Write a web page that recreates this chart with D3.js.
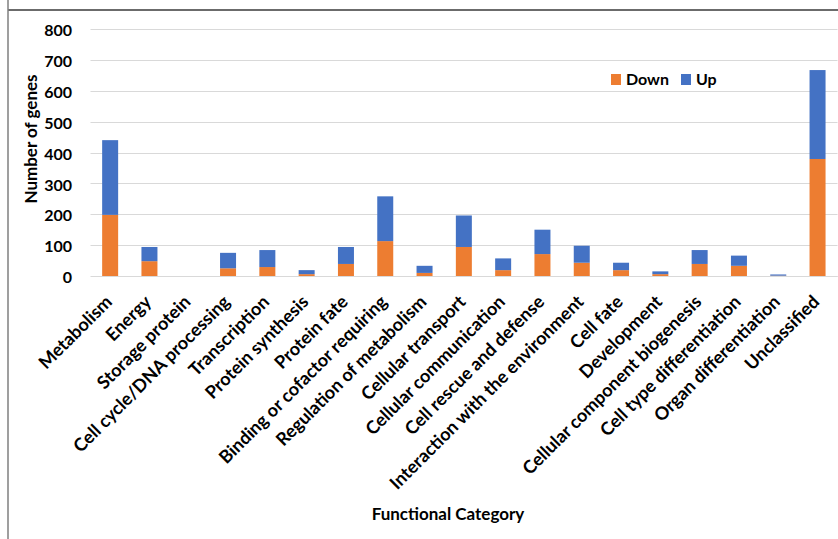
<!DOCTYPE html>
<html>
<head>
<meta charset="utf-8">
<script src="https://cdn.jsdelivr.net/npm/d3@7"></script>
<style>
  html, body { margin: 0; padding: 0; background: #fff; }
  svg { display: block; font-family: Lato, "Open Sans", sans-serif; font-weight: 700; }
</style>
</head>
<body>
<svg id="chart" width="838" height="539"></svg>
<script>
// Functional categories of the differentially expressed genes
const categories = [
  "Metabolism", "Energy", "Storage protein", "Cell cycle/DNA processing",
  "Transcription", "Protein synthesis", "Protein fate",
  "Binding or cofactor requiring", "Regulation of metabolism",
  "Cellular transport", "Cellular communication", "Cell rescue and defense",
  "Interaction with the environment", "Cell fate", "Development",
  "Cellular component biogenesis", "Cell type differentiation",
  "Organ differentiation", "Unclassified"
];
// Down-regulated gene counts
const down = [198, 48, 0, 25, 29, 6, 39, 113, 10, 94, 19, 71, 43, 19, 6, 39, 33, 1, 379];
// Up-regulated gene counts
const up = [242, 46, 0, 50, 55, 13, 55, 145, 23, 102, 38, 79, 55, 24, 9, 45, 33, 4, 288];
const yTicks = [0, 100, 200, 300, 400, 500, 600, 700, 800];
const seriesNames = ["Down", "Up"];
const seriesColors = ["#ED7D31", "#4472C4"];

const svg = d3.select("#chart");

// Frame lines
svg.append("line").attr("x1", 8).attr("x2", 838).attr("y1", 10).attr("y2", 10)
  .attr("stroke", "#3a3a3a").attr("stroke-width", 1.5);
svg.append("line").attr("x1", 8).attr("x2", 8).attr("y1", 0).attr("y2", 539)
  .attr("stroke", "#7f7f7f").attr("stroke-width", 1.5);

const x = d3.scaleBand().domain(categories).range([90.5, 837.2])
  .paddingInner(0.593).paddingOuter(0.2965);
const y = d3.scaleLinear().domain([0, 800]).range([276, 29]);

// Horizontal gridlines
svg.append("g").selectAll("line").data(yTicks).join("line")
  .attr("x1", 90.5).attr("x2", 837.5)
  .attr("y1", d => Math.round(y(d)) + 0.5).attr("y2", d => Math.round(y(d)) + 0.5)
  .attr("stroke", "#d9d9d9").attr("stroke-width", 1);

// Y axis tick labels
const yAxis = svg.append("g").attr("transform", "translate(72,0)")
  .call(d3.axisLeft(y).tickValues(yTicks).tickSize(0).tickPadding(0));
yAxis.select(".domain").remove();
yAxis.selectAll("text").attr("font-family", "Lato, sans-serif").attr("font-weight", 700)
  .attr("font-size", 16).attr("fill", "#000").attr("dy", "0.42em");

// Stacked bars
const rows = categories.map((c, i) => ({ category: c, Down: down[i], Up: up[i] }));
const stacked = d3.stack().keys(seriesNames)(rows);
svg.append("g").selectAll("g").data(stacked).join("g")
  .attr("fill", (d, i) => seriesColors[i])
  .selectAll("rect").data(d => d).join("rect")
  .attr("x", d => x(d.data.category))
  .attr("width", x.bandwidth())
  .attr("y", d => y(d[1]))
  .attr("height", d => y(d[0]) - y(d[1]));

// X axis labels, rotated
const xAxis = svg.append("g").attr("transform", "translate(0,276)")
  .call(d3.axisBottom(x).tickSize(0).tickPadding(0));
xAxis.select(".domain").attr("stroke", "#d9d9d9");
xAxis.selectAll("text")
  .attr("font-family", "Lato, sans-serif").attr("font-weight", 700)
  .attr("font-size", 18).attr("fill", "#000")
  .attr("text-anchor", "end")
  .attr("dy", null).attr("y", 0)
  .attr("transform", "translate(3,27) rotate(-45)");

// Axis titles
svg.append("text").attr("transform", "translate(37,139) rotate(-90)")
  .attr("text-anchor", "middle").attr("font-size", 17).attr("fill", "#000")
  .text("Number of genes");
svg.append("text").attr("x", 448).attr("y", 520)
  .attr("text-anchor", "middle").attr("font-size", 17).attr("fill", "#000")
  .text("Functional Category");

// Legend
const legend = svg.append("g");
const legendX = [611, 681];
seriesNames.forEach((name, i) => {
  legend.append("rect").attr("x", legendX[i]).attr("y", 74).attr("width", 10).attr("height", 11)
    .attr("fill", seriesColors[i]);
  legend.append("text").attr("x", legendX[i] + 15).attr("y", 85)
    .attr("font-size", 16).attr("fill", "#000").text(name);
});
</script>
</body>
</html>
